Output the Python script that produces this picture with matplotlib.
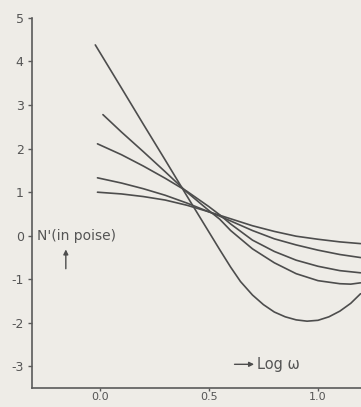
import matplotlib
matplotlib.use('Agg')
import matplotlib.pyplot as plt

plt.rcParams['axes.unicode_minus'] = False

# log omega values, one list per curve
x_a = [-0.02, 0.1, 0.2, 0.3, 0.4, 0.5, 0.55, 0.6, 0.645, 0.7, 0.75, 0.8, 0.85, 0.9, 0.95, 1.0, 1.05, 1.1, 1.15, 1.195]
y_a = [4.38, 3.39, 2.56, 1.74, 0.91, 0.09, -0.32, -0.72, -1.05, -1.36, -1.58, -1.75, -1.86, -1.93, -1.96, -1.94, -1.86, -1.73, -1.55, -1.33]

x_b = [0.015, 0.1, 0.2, 0.3, 0.4, 0.5, 0.55, 0.6, 0.7, 0.8, 0.9, 1.0, 1.1, 1.15, 1.195]
y_b = [2.78, 2.38, 1.93, 1.47, 1.00, 0.58, 0.38, 0.12, -0.30, -0.62, -0.87, -1.03, -1.10, -1.11, -1.08]

x_c = [-0.01, 0.1, 0.2, 0.3, 0.4, 0.5, 0.55, 0.6, 0.7, 0.8, 0.9, 1.0, 1.1, 1.195]
y_c = [2.11, 1.86, 1.60, 1.32, 1.02, 0.67, 0.48, 0.27, -0.10, -0.36, -0.56, -0.70, -0.80, -0.85]

x_d = [-0.01, 0.1, 0.2, 0.3, 0.4, 0.5, 0.55, 0.6, 0.7, 0.8, 0.9, 1.0, 1.1, 1.195]
y_d = [1.33, 1.21, 1.08, 0.93, 0.75, 0.55, 0.45, 0.34, 0.12, -0.07, -0.21, -0.33, -0.43, -0.50]

x_e = [-0.01, 0.1, 0.2, 0.3, 0.4, 0.5, 0.55, 0.6, 0.7, 0.8, 0.9, 1.0, 1.1, 1.195]
y_e = [1.00, 0.96, 0.90, 0.82, 0.70, 0.55, 0.47, 0.39, 0.23, 0.10, -0.01, -0.08, -0.14, -0.18]

xticks = [0.0, 0.5, 1.0]
xtick_labels = ['0.0', '0.5', '1.0']
yticks = [-3, -2, -1, 0, 1, 2, 3, 4, 5]
ytick_labels = ['-3', '-2', '-1', '0', '1', '2', '3', '4', '5']

bg = '#eeece7'
ink = '#4d4d4d'

fig = plt.figure(figsize=(3.61, 4.07), dpi=100, facecolor=bg)
ax = fig.add_axes([0.0886, 0.046, 0.9114, 0.910])
ax.set_facecolor(bg)

for xs, ys in [(x_a, y_a), (x_b, y_b), (x_c, y_c), (x_d, y_d), (x_e, y_e)]:
    ax.plot(xs, ys, color=ink, lw=1.2, solid_capstyle='round', solid_joinstyle='round')

ax.set_xlim(-0.31, 1.197)
ax.set_ylim(-3.5, 5)

for s in ['top', 'right']:
    ax.spines[s].set_visible(False)
for s in ['left', 'bottom']:
    ax.spines[s].set_color('#5a5a5a')
    ax.spines[s].set_linewidth(1.2)

ax.set_xticks(xticks)
ax.set_xticklabels(xtick_labels)
ax.set_yticks(yticks)
ax.set_yticklabels(ytick_labels)
ax.tick_params(axis='both', direction='out', length=3, width=1, color='#5a5a5a',
               labelcolor='#555555', labelsize=9, pad=3)
ax.tick_params(axis='x', labelsize=8, length=2, pad=1)

# axis annotations
ax.text(-0.285, 0.0, "N'(in poise)", fontsize=10, color='#555555', va='center', ha='left')
ax.annotate('', xy=(-0.155, -0.25), xytext=(-0.155, -0.82),
            arrowprops=dict(arrowstyle='-|>', color=ink, lw=1.0, mutation_scale=7))
ax.annotate('', xy=(0.72, -2.95), xytext=(0.605, -2.95),
            arrowprops=dict(arrowstyle='-|>', color=ink, lw=1.0, mutation_scale=7))
ax.text(0.72, -2.95, 'Log ω', fontsize=10.5, color='#555555', va='center', ha='left')

fig.savefig('out.png', dpi=100, facecolor=bg)
